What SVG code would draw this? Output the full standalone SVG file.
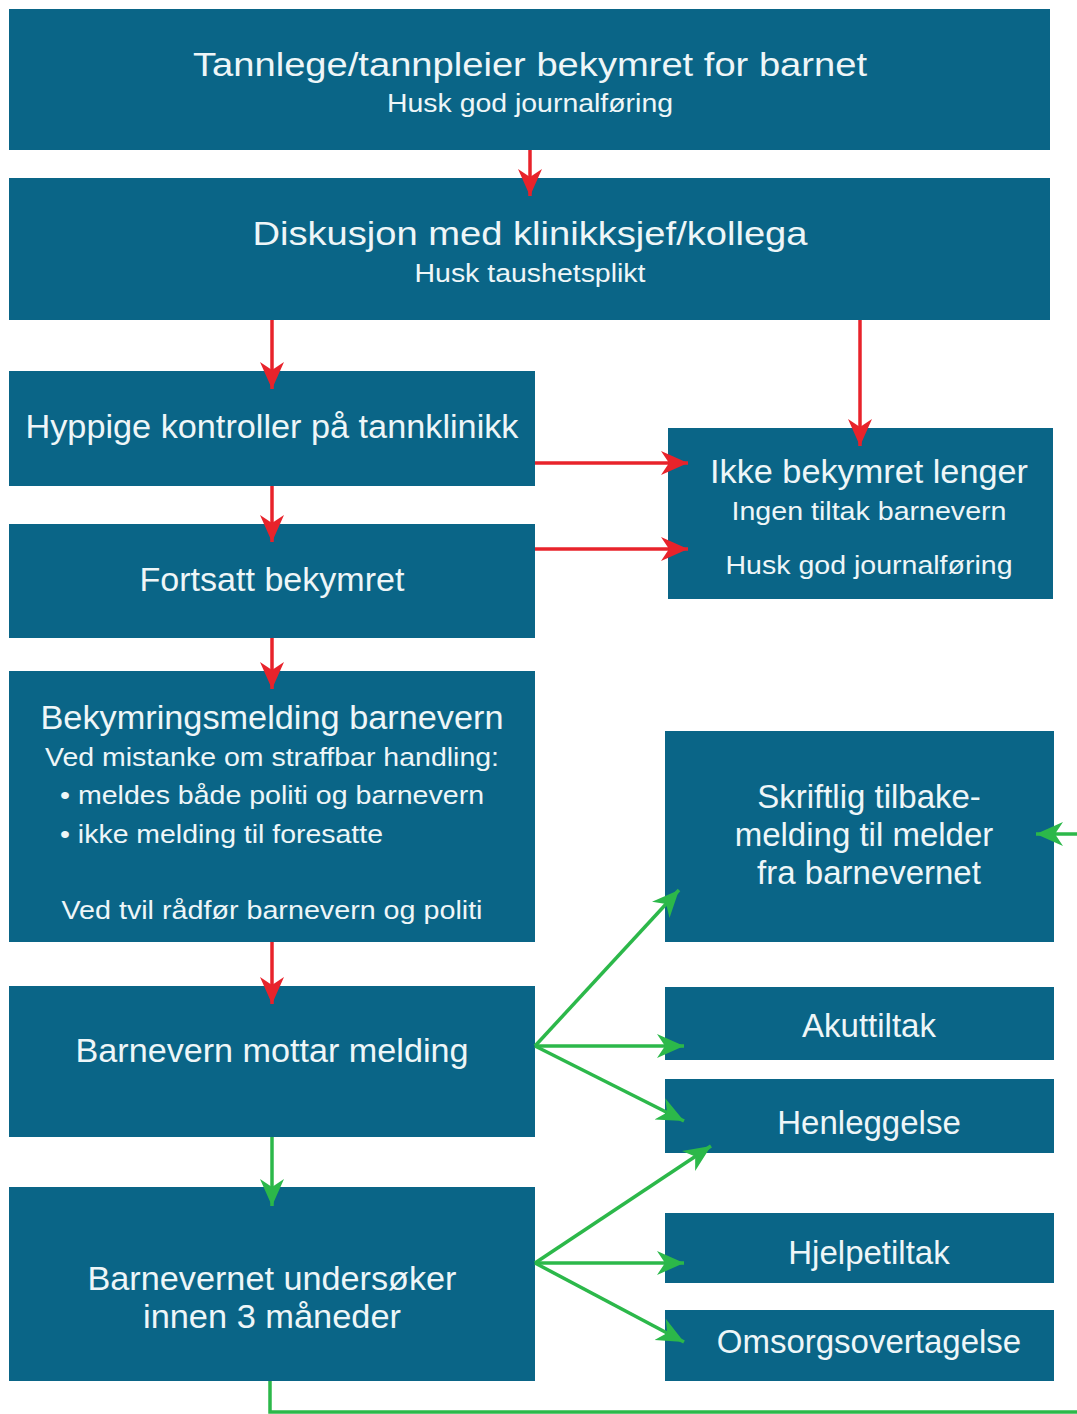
<svg xmlns="http://www.w3.org/2000/svg" width="1077" height="1414" viewBox="0 0 1077 1414">
<style>
.box{fill:#0a6587}
text{font-family:"Liberation Sans",Arial,sans-serif;fill:#eef6f8}
.t{font-size:33px;text-anchor:middle}
.s{font-size:25px;text-anchor:middle}
.l{font-size:25px}
.red{stroke:#e8232b;stroke-width:3.5;fill:none}
.grn{stroke:#2cb84a;stroke-width:3.5;fill:none}
</style>
<defs>
<marker id="ar" markerUnits="userSpaceOnUse" markerWidth="30" markerHeight="26" viewBox="0 -13 30 26" refX="27" refY="0" orient="auto">
<path d="M0,-12 L27,0 L0,12 L8,0 Z" fill="#e8232b"/>
</marker>
<marker id="ag" markerUnits="userSpaceOnUse" markerWidth="30" markerHeight="26" viewBox="0 -13 30 26" refX="27" refY="0" orient="auto">
<path d="M0,-12 L27,0 L0,12 L8,0 Z" fill="#2cb84a"/>
</marker>
</defs>
<rect width="1077" height="1414" fill="#ffffff"/>

<g id="n1"><rect class="box" x="9" y="9" width="1041" height="141"/>
<text class="t" x="530" y="76" textLength="674" lengthAdjust="spacingAndGlyphs">Tannlege/tannpleier bekymret for barnet</text>
<text class="s" x="530" y="112" textLength="286" lengthAdjust="spacingAndGlyphs">Husk god journalføring</text></g>

<g id="n2"><rect class="box" x="9" y="178" width="1041" height="142"/>
<text class="t" x="530" y="245" textLength="555" lengthAdjust="spacingAndGlyphs">Diskusjon med klinikksjef/kollega</text>
<text class="s" x="530" y="282" textLength="231" lengthAdjust="spacingAndGlyphs">Husk taushetsplikt</text></g>

<g id="n3"><rect class="box" x="9" y="371" width="526" height="115"/>
<text class="t" x="272" y="438" textLength="493" lengthAdjust="spacingAndGlyphs">Hyppige kontroller på tannklinikk</text></g>

<g id="n4"><rect class="box" x="9" y="524" width="526" height="114"/>
<text class="t" x="272" y="591" textLength="265" lengthAdjust="spacingAndGlyphs">Fortsatt bekymret</text></g>

<g id="n5"><rect class="box" x="668" y="428" width="385" height="171"/>
<text class="t" x="869" y="483" textLength="318" lengthAdjust="spacingAndGlyphs">Ikke bekymret lenger</text>
<text class="s" x="869" y="520" textLength="275" lengthAdjust="spacingAndGlyphs">Ingen tiltak barnevern</text>
<text class="s" x="869" y="574" textLength="287" lengthAdjust="spacingAndGlyphs">Husk god journalføring</text></g>

<g id="n6"><rect class="box" x="9" y="671" width="526" height="271"/>
<text class="t" x="272" y="729" textLength="463" lengthAdjust="spacingAndGlyphs">Bekymringsmelding barnevern</text>
<text class="s" x="272" y="766" textLength="454" lengthAdjust="spacingAndGlyphs">Ved mistanke om straffbar handling:</text>
<text class="l" x="60" y="804" textLength="424" lengthAdjust="spacingAndGlyphs">• meldes både politi og barnevern</text>
<text class="l" x="60" y="843" textLength="323" lengthAdjust="spacingAndGlyphs">• ikke melding til foresatte</text>
<text class="s" x="272" y="919" textLength="421" lengthAdjust="spacingAndGlyphs">Ved tvil rådfør barnevern og politi</text></g>

<g id="n7"><rect class="box" x="665" y="731" width="389" height="211"/>
<text class="t" x="869" y="808">Skriftlig tilbake-</text>
<text class="t" x="864" y="846">melding til melder</text>
<text class="t" x="869" y="884">fra barnevernet</text></g>

<g id="n8"><rect class="box" x="9" y="986" width="526" height="151"/>
<text class="t" x="272" y="1062" textLength="393" lengthAdjust="spacingAndGlyphs">Barnevern mottar melding</text></g>

<g id="n9"><rect class="box" x="665" y="987" width="389" height="73"/>
<text class="t" x="869" y="1037">Akuttiltak</text></g>

<g id="n10"><rect class="box" x="665" y="1079" width="389" height="74"/>
<text class="t" x="869" y="1134">Henleggelse</text></g>

<g id="n11"><rect class="box" x="9" y="1187" width="526" height="194"/>
<text class="t" x="272" y="1290" textLength="369" lengthAdjust="spacingAndGlyphs">Barnevernet undersøker</text>
<text class="t" x="272" y="1328" textLength="258" lengthAdjust="spacingAndGlyphs">innen 3 måneder</text></g>

<g id="n12"><rect class="box" x="665" y="1213" width="389" height="70"/>
<text class="t" x="869" y="1264">Hjelpetiltak</text></g>

<g id="n13"><rect class="box" x="665" y="1310" width="389" height="71"/>
<text class="t" x="869" y="1353">Omsorgsovertagelse</text></g>

<g id="connectors">
<path class="red" d="M530,150 V196" marker-end="url(#ar)"/>
<path class="red" d="M272,320 V389" marker-end="url(#ar)"/>
<path class="red" d="M860,320 V446" marker-end="url(#ar)"/>
<path class="red" d="M535,463 H688" marker-end="url(#ar)"/>
<path class="red" d="M535,549 H688" marker-end="url(#ar)"/>
<path class="red" d="M272,486 V542" marker-end="url(#ar)"/>
<path class="red" d="M272,638 V689" marker-end="url(#ar)"/>
<path class="red" d="M272,942 V1004" marker-end="url(#ar)"/>
<path class="grn" d="M272,1137 V1206" marker-end="url(#ag)"/>
<path class="grn" d="M535,1046 L679,890" marker-end="url(#ag)"/>
<path class="grn" d="M535,1046 H684" marker-end="url(#ag)"/>
<path class="grn" d="M535,1046 L684,1121" marker-end="url(#ag)"/>
<path class="grn" d="M535,1263 L711,1146" marker-end="url(#ag)"/>
<path class="grn" d="M535,1263 H684" marker-end="url(#ag)"/>
<path class="grn" d="M535,1263 L684,1342" marker-end="url(#ag)"/>
<path class="grn" d="M270,1381 V1412 H1090 V834 H1036" marker-end="url(#ag)"/>
</g>
</svg>
